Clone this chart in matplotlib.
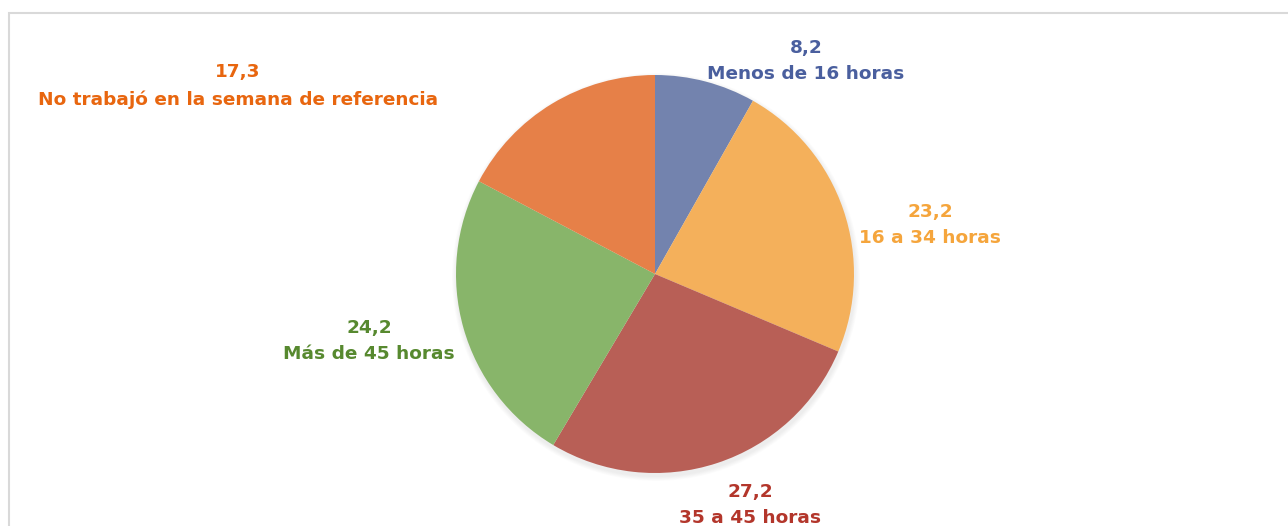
import matplotlib
matplotlib.use("Agg")
import matplotlib.pyplot as plt
from matplotlib.patches import Rectangle, Circle

# data
categories = ["Menos de 16 horas", "16 a 34 horas", "35 a 45 horas",
              "Más de 45 horas", "No trabajó en la semana de referencia"]
values = [8.2, 23.2, 27.2, 24.2, 17.3]
value_labels = ["8,2", "23,2", "27,2", "24,2", "17,3"]

wedge_colors = ["#7383AE", "#F4B05B", "#B85F56", "#88B56A", "#E68048"]
text_colors = ["#4A5F9E", "#F5A53C", "#B3362B", "#57892F", "#E8660F"]
# label centres in pixels (x, y from top)
label_pos = [(806, 61), (930, 225), (750, 505), (369, 341), (238, 86)]

W, H = 1288, 526
fig = plt.figure(figsize=(W / 100, H / 100), dpi=100)
ax = fig.add_axes([0, 0, 1, 1])

cx, cy, r = 655, H - 274, 199

# soft shadow
for i in range(6):
    ax.add_patch(Circle((cx + 1, cy - 3), r + 1 + i * 0.8, color="#000000",
                        alpha=0.013, lw=0, zorder=1))

ax.pie(values, colors=wedge_colors, startangle=90, counterclock=False,
       center=(cx, cy), radius=r, frame=True,
       wedgeprops=dict(linewidth=0, zorder=2))
ax.set_xlim(0, W)
ax.set_ylim(0, H)
ax.set_aspect("equal")
ax.axis("off")

for cat, val, col, (px, py) in zip(categories, value_labels, text_colors, label_pos):
    ax.text(px, H - py, f"{val}\n{cat}", ha="center", va="center",
            color=col, fontsize=13.3, fontweight="bold", linespacing=1.6,
            family="DejaVu Sans")

# chart frame
fig.patches.append(Rectangle((9 / W, -0.1), 1.2, (H - 13) / H + 0.1,
                             transform=fig.transFigure, fill=False,
                             edgecolor="#D9D9D9", linewidth=1.5))

fig.savefig("out.png", dpi=100)
